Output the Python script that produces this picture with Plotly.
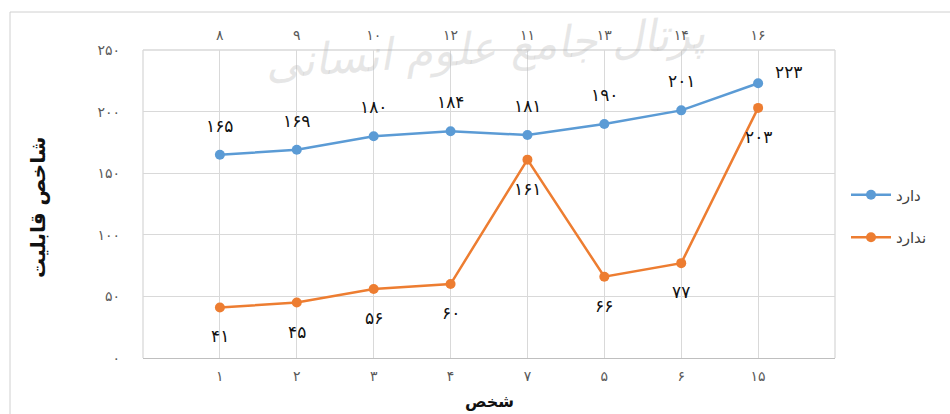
import plotly.graph_objects as go

# Person categories (bottom axis) and their paired labels (top axis)
persons = ["۱", "۲", "۳", "۴", "۷", "۵", "۶", "۱۵"]
persons_top = ["۸", "۹", "۱۰", "۱۲", "۱۱", "۱۳", "۱۴", "۱۶"]

has_values = [165, 169, 180, 184, 181, 190, 201, 223]      # دارد
hasnot_values = [41, 45, 56, 60, 161, 66, 77, 203]         # ندارد

y_ticks = [0, 50, 100, 150, 200, 250]
persian_digits = str.maketrans("0123456789", "۰۱۲۳۴۵۶۷۸۹")


def fa(n):
    return str(n).translate(persian_digits)


BLUE = "#5B9BD5"
ORANGE = "#ED7D31"
GRID = "#D9D9D9"
FONT = "DejaVu Sans"

W, H = 950, 414
L, R, T, B = 143, 115, 50, 56
pw, ph = W - L - R, H - T - B


def px_x(px):
    return (px - L) / pw


def px_y(py):
    return (H - B - py) / ph


fig = go.Figure()
fig.add_trace(go.Scatter(
    x=persons, y=has_values, name="دارد", mode="lines+markers", legendgroup="a",
    line=dict(color=BLUE, width=2.5), marker=dict(size=10, color=BLUE),
))
fig.add_trace(go.Scatter(
    x=persons, y=hasnot_values, name="ندارد", mode="lines+markers", legendgroup="b",
    line=dict(color=ORANGE, width=2.5), marker=dict(size=10, color=ORANGE),
))

LABEL_FONT = dict(family=FONT, size=17, color="#111111")
annotations = []
# value labels for the blue series (above the points, last one to the right)
for i, (c, v) in enumerate(zip(persons, has_values)):
    xs, ys = (30, 11) if i == len(persons) - 1 else (0, 29)
    annotations.append(dict(x=c, y=v, text=fa(v), showarrow=False,
                            xshift=xs, yshift=ys, font=LABEL_FONT))
# value labels for the orange series (below the points)
for c, v in zip(persons, hasnot_values):
    annotations.append(dict(x=c, y=v, text=fa(v), showarrow=False,
                            yshift=-29, font=LABEL_FONT))

# axis titles
annotations.append(dict(xref="paper", yref="paper", x=px_x(38), y=px_y(208),
                        xanchor="center", yanchor="middle",
                        text="<b>شاخص قابلیت</b>", showarrow=False, textangle=-90,
                        font=dict(family=FONT, size=20, color="#111111")))
annotations.append(dict(xref="paper", yref="paper", x=px_x(490), y=px_y(401),
                        xanchor="center", yanchor="middle",
                        text="<b>شخص</b>", showarrow=False,
                        font=dict(family=FONT, size=16, color="#111111")))
# faint watermark across the top
annotations.append(dict(xref="paper", yref="paper", x=px_x(485), y=px_y(48),
                        xanchor="center", yanchor="middle",
                        text="<i>پرتال جامع علوم انسانی</i>", showarrow=False,
                        textangle=-4,
                        font=dict(family=FONT, size=44, color="rgba(185,185,185,0.35)")))

fig.update_layout(
    width=W, height=H,
    margin=dict(l=L, r=R, t=T, b=B),
    paper_bgcolor="white", plot_bgcolor="white",
    font=dict(family=FONT, color="#595959"),
    showlegend=True,
    legend=dict(x=px_x(846), y=px_y(216), xanchor="left", yanchor="middle",
                font=dict(family=FONT, size=15, color="#404040"),
                tracegroupgap=20, itemwidth=40, bgcolor="rgba(0,0,0,0)"),
    annotations=annotations,
    xaxis=dict(type="category", categoryorder="array", categoryarray=persons,
               range=[-1, len(persons)], showgrid=True, gridcolor=GRID, gridwidth=1.3,
               showline=True, linecolor="#BFBFBF", linewidth=1.3, mirror=False,
               ticks="", ticklabelstandoff=5,
               tickfont=dict(family=FONT, size=14, color="#595959"),
               zeroline=False),
    xaxis2=dict(overlaying="x", side="top", range=[-1, len(persons)],
                tickmode="array", tickvals=list(range(len(persons))),
                ticktext=persons_top, showgrid=False, showline=False, ticks="",
                ticklabelstandoff=6,
                tickfont=dict(family=FONT, size=14, color="#595959"),
                zeroline=False),
    yaxis=dict(range=[0, 250], tickmode="array", tickvals=y_ticks,
               ticktext=[fa(v) for v in y_ticks], showgrid=True, gridcolor=GRID,
               gridwidth=1.3, showline=False, zeroline=False, ticks="",
               ticklabelstandoff=22,
               tickfont=dict(family=FONT, size=14, color="#595959")),
    shapes=[
        # plot frame edges
        dict(type="line", xref="paper", yref="paper", x0=0, x1=0, y0=0, y1=1,
             line=dict(color=GRID, width=1.3)),
        dict(type="line", xref="paper", yref="paper", x0=1, x1=1, y0=0, y1=1,
             line=dict(color=GRID, width=1.3)),
        dict(type="line", xref="paper", yref="paper", x0=0, x1=1, y0=1, y1=1,
             line=dict(color=GRID, width=1.3)),
        # outer chart border
        dict(type="rect", xref="paper", yref="paper", layer="below",
             x0=px_x(10), x1=px_x(990), y0=px_y(440), y1=px_y(12),
             line=dict(color="#D0D0D0", width=1)),
    ],
)

# an invisible trace keeps the top axis drawn
fig.add_trace(go.Scatter(x=[0], y=[0], xaxis="x2", mode="markers",
                         marker=dict(opacity=0), showlegend=False, hoverinfo="skip"))

fig.write_html("out.html")
